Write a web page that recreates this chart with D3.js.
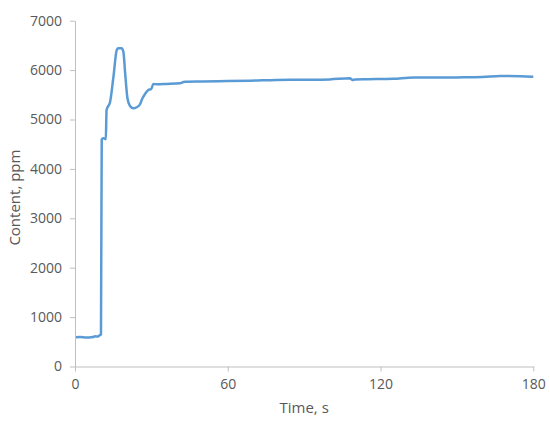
<!DOCTYPE html>
<meta charset="utf-8">
<style>
  body { margin: 0; background: #fff; }
  text { font-family: "Open Sans", sans-serif; fill: #595959; }
</style>
<svg width="550" height="422"></svg>
<script src="https://d3js.org/d3.v7.min.js"></script>
<script>
  // readings from the curve
  var times = [0.4, 2, 4, 5, 6, 7, 8, 9, 9.8, 10.2, 10.5, 11.2, 12.1, 12.4, 13.8, 15.1, 16.4, 17, 18.3, 19, 19.7, 20.6,
    21.6, 22.9, 24.2, 25.6, 26.5, 27.5, 28.8, 29.9, 30.8, 32.1, 36, 41.3, 42.6, 43.2, 50, 60, 68.8, 79, 90, 100,
    108, 109, 110, 115, 125, 133, 140, 150, 160, 167, 175, 180];
  var contents = [591, 595, 588, 586, 590, 596, 611, 605, 637, 650, 4600, 4620, 4600, 5192, 5360, 5866, 6407, 6440,
    6440, 6370, 5935, 5430, 5273, 5226, 5247, 5314, 5430, 5516, 5597, 5617, 5719, 5713, 5720, 5733, 5759, 5765, 5770,
    5778, 5785, 5800, 5805, 5812, 5834, 5800, 5810, 5815, 5825, 5850, 5848, 5852, 5858, 5880, 5875, 5866];
  var xTicks = [0, 60, 120, 180];
  var yTicks = [0, 1000, 2000, 3000, 4000, 5000, 6000, 7000];

  var svg = d3.select("svg"),
    margin = {top: 20.7, right: 16.7, bottom: 55.5, left: 75},
    width = 550 - margin.left - margin.right,
    height = 422 - margin.top - margin.bottom,
    g = svg.append("g").attr("transform", "translate(" + margin.left + "," + margin.top + ")");

  var x = d3.scaleLinear().domain([0, 180]).range([0, width]);
  var y = d3.scaleLinear().domain([0, 7000]).range([height, 0]);

  var xAxis = g.append("g")
    .attr("transform", "translate(0," + height + ")")
    .call(d3.axisBottom(x).tickValues(xTicks).tickFormat(d3.format("d"))
      .tickSizeInner(5).tickSizeOuter(0).tickPadding(8));

  var yAxis = g.append("g")
    .call(d3.axisLeft(y).tickValues(yTicks).tickFormat(d3.format("d"))
      .tickSizeInner(5).tickSizeOuter(0).tickPadding(8));

  [xAxis, yAxis].forEach(function(a) {
    a.selectAll("path, line").attr("stroke", "#bfbfbf");
    a.selectAll("text").attr("fill", "#595959").style("font-size", "14px")
      .style("font-family", "'Open Sans', sans-serif");
  });

  var line = d3.line()
    .x(function(d, i) { return x(times[i]); })
    .y(function(d) { return y(d); })
    .curve(d3.curveMonotoneX);

  g.append("path")
    .datum(contents)
    .attr("fill", "none")
    .attr("stroke", "#5b9bd5")
    .attr("stroke-width", 2.5)
    .attr("stroke-linejoin", "round")
    .attr("d", line);

  svg.append("text")
    .attr("x", margin.left + width / 2)
    .attr("y", 413)
    .attr("text-anchor", "middle")
    .style("font-size", "15px")
    .text("Time, s");

  svg.append("text")
    .attr("transform", "translate(20," + (margin.top + height / 2 + 4) + ") rotate(-90)")
    .attr("text-anchor", "middle")
    .style("font-size", "15px")
    .text("Content, ppm");
</script>
